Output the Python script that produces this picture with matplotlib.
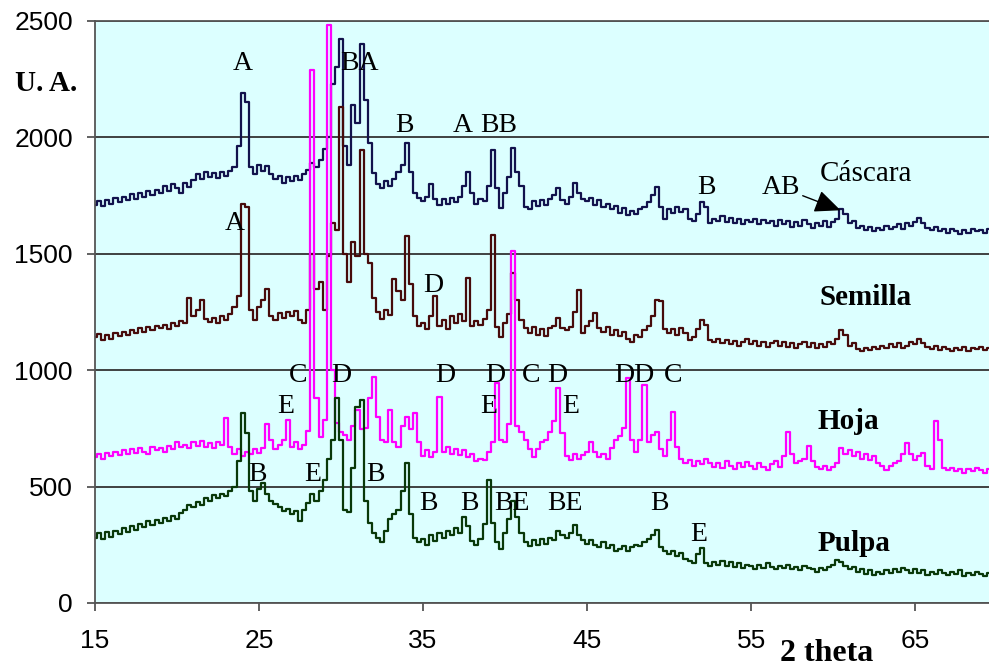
import numpy as np
import matplotlib
matplotlib.use("Agg")
import matplotlib.pyplot as plt

# 2 theta grid, 0.25 deg step from 15 to 69.5
two_theta = np.arange(15.0, 69.51, 0.25)

cascara = [
    1710, 1725, 1705, 1730, 1715, 1740, 1720, 1745,
    1730, 1755, 1735, 1760, 1745, 1770, 1750, 1775,
    1760, 1790, 1770, 1800, 1780, 1760, 1805, 1785,
    1815, 1840, 1820, 1850, 1830, 1845, 1825, 1850,
    1835, 1855, 1870, 1960, 2190, 2150, 1870, 1840,
    1880, 1855, 1875, 1840, 1820, 1835, 1805, 1830,
    1810, 1835, 1815, 1840, 1860, 1890, 1870, 1900,
    1950, 2000, 2230, 2300, 2420, 1960, 1880, 2140,
    2060, 2400, 2160, 1975, 1845, 1800, 1780, 1810,
    1790, 1820, 1850, 1880, 1975, 1850, 1760, 1740,
    1725, 1745, 1800, 1735, 1710, 1735, 1715, 1740,
    1720, 1745, 1790, 1850, 1760, 1715, 1735, 1725,
    1790, 1945, 1780, 1695, 1760, 1830, 1955, 1850,
    1790, 1700, 1690, 1725, 1705, 1730, 1710, 1735,
    1750, 1780, 1730, 1715, 1745, 1805, 1760, 1735,
    1725, 1740, 1710, 1730, 1700, 1715, 1690, 1705,
    1675, 1695, 1665, 1685, 1670, 1690, 1700, 1720,
    1750, 1785, 1700, 1650, 1690, 1675, 1700, 1680,
    1690, 1650, 1640, 1670, 1720, 1700, 1630, 1650,
    1640, 1660, 1635, 1655, 1630, 1650, 1625, 1645,
    1635, 1650, 1625, 1645, 1630, 1640, 1620, 1645,
    1625, 1640, 1615, 1635, 1620, 1645, 1625, 1610,
    1630, 1620, 1640, 1615, 1635, 1650, 1690, 1670,
    1630, 1640, 1610, 1620, 1600, 1615, 1595, 1610,
    1600, 1620, 1605, 1615, 1625, 1605, 1630, 1620,
    1635, 1655, 1630, 1610, 1600, 1615, 1595, 1605,
    1590, 1605, 1595, 1585, 1600, 1590, 1605, 1595,
    1600, 1590, 1605,
]

semilla = [
    1140, 1155, 1130, 1150, 1135, 1160, 1145, 1165,
    1150, 1170, 1160, 1180, 1165, 1185, 1170, 1190,
    1180, 1195, 1175, 1200, 1190, 1210, 1200, 1310,
    1230, 1260, 1300, 1220, 1205, 1225, 1200, 1230,
    1215, 1240, 1270, 1320, 1715, 1700, 1260, 1215,
    1270, 1300, 1350, 1230, 1215, 1245, 1225, 1250,
    1230, 1255, 1215, 1200, 1260, 1500, 1350, 1380,
    1260, 1490, 1630, 1600, 2130, 1500, 1380, 1550,
    1490, 1945, 1500, 1460, 1310, 1250, 1220, 1260,
    1235, 1390, 1340, 1300, 1575, 1370, 1230, 1190,
    1200, 1175, 1230, 1320, 1190, 1215, 1175, 1230,
    1200, 1240, 1210, 1395, 1190, 1210, 1195, 1220,
    1260, 1580, 1185, 1140, 1200, 1240, 1415, 1300,
    1215, 1180, 1160, 1185, 1150, 1175, 1145, 1180,
    1190, 1225, 1180, 1170, 1185, 1250, 1345, 1160,
    1190, 1210, 1245, 1180, 1165, 1185, 1150, 1170,
    1145, 1165, 1135, 1120, 1150, 1140, 1170, 1190,
    1230, 1300, 1295, 1175, 1160, 1175, 1150, 1180,
    1160, 1130, 1140, 1175, 1215, 1195, 1130, 1120,
    1135, 1115, 1130, 1110, 1125, 1105, 1120, 1135,
    1110, 1125, 1105, 1120, 1100, 1115, 1125, 1105,
    1120, 1100, 1115, 1095, 1110, 1120, 1100, 1115,
    1095, 1110, 1100, 1120, 1110, 1135, 1170, 1150,
    1105, 1115, 1090, 1080, 1095, 1085, 1100, 1090,
    1105, 1095, 1110, 1100, 1115, 1095, 1105, 1120,
    1110, 1135, 1115, 1100, 1090, 1105, 1085, 1100,
    1090, 1080, 1095, 1085, 1100, 1080, 1095, 1090,
    1100, 1085, 1095,
]

hoja = [
    625, 640, 620, 645, 630, 650, 635, 655,
    640, 660, 645, 665, 650, 640, 670, 655,
    665, 650, 675, 660, 690, 670, 680, 665,
    690, 675, 695, 670, 685, 665, 690, 680,
    795, 670, 640, 660, 630, 650, 640, 660,
    645, 665, 770, 700, 660, 680, 700, 785,
    670, 690, 660, 680, 740, 2290, 880, 712,
    785, 2480, 1000, 772, 735, 720, 700, 760,
    830, 745, 750, 880, 970, 800, 700, 690,
    830, 690, 670, 760, 800, 745, 815, 690,
    630, 655, 625, 650, 885, 650, 670, 640,
    660, 635, 655, 625, 640, 610, 620, 615,
    650, 690, 945, 700, 690, 770, 1510, 760,
    735, 700, 660, 625, 660, 690, 700, 735,
    780, 925, 730, 630, 615, 640, 620, 635,
    650, 690, 650, 625, 640, 620, 665, 700,
    715, 750, 965, 700, 650, 700, 935, 690,
    720, 735, 660, 630, 700, 820, 670, 620,
    600, 615, 590, 610, 595, 620, 600, 585,
    600, 580, 610, 590, 575, 600, 585, 605,
    590, 575, 600, 585, 570, 595, 610, 585,
    630, 735, 640, 600, 610, 620, 675, 610,
    585, 575, 590, 570, 585, 600, 665, 640,
    655, 630, 650, 620, 640, 615, 630, 600,
    590, 570, 590, 600, 610, 640, 685, 640,
    615, 630, 645, 590, 575, 780, 700, 580,
    570, 580, 565, 575, 560, 575, 565, 580,
    570, 560, 575,
]

pulpa = [
    280, 300, 275, 305, 285, 310, 295, 320,
    305, 330, 315, 340, 325, 350, 335, 355,
    345, 365, 350, 375, 360, 385, 400, 420,
    410, 435, 420, 450, 440, 465, 450, 470,
    460, 480, 500, 610, 815, 730, 480, 440,
    490, 515, 470, 440, 425, 410, 395, 405,
    380, 395, 350, 400, 430, 470, 440, 480,
    530, 620, 700, 880, 700, 400, 390, 580,
    840, 870, 440, 345, 300, 280, 260, 310,
    360, 380, 400, 480, 600, 380, 280, 260,
    275, 250, 290, 265, 300, 280, 310, 290,
    320, 300, 370, 330, 265, 250, 275, 340,
    530, 345, 260, 230, 300, 360, 440, 370,
    300, 260, 245, 270, 250, 275, 255, 280,
    270, 310, 290, 280, 300, 335, 290, 270,
    255, 270, 250, 240, 260, 235, 250, 225,
    230, 245, 225, 240, 250, 245, 260, 275,
    290, 315, 240, 225, 210, 225, 200, 215,
    190, 180, 170, 210, 235, 170, 160, 175,
    165, 180, 160, 175, 155, 170, 150, 165,
    160, 145, 165, 150, 170, 155, 145, 160,
    150, 165, 145, 155, 140, 160, 150, 145,
    135, 150, 140, 155, 165, 185, 175, 160,
    145, 155, 135, 145, 125, 140, 120, 135,
    125, 140, 130, 145, 135, 150, 140, 130,
    145, 130, 140, 120, 135, 125, 140, 130,
    120, 135, 125, 140, 115, 130, 120, 135,
    125, 115, 130,
]

# phase labels: (text, 2theta, counts)
peak_labels = [
    ("A", 24.0, 2317), ("BA", 31.15, 2317), ("B", 33.85, 2050),
    ("A", 37.4, 2050), ("BB", 39.6, 2050), ("B", 52.3, 1785),
    ("A", 23.5, 1630), ("D", 35.6, 1364),
    ("C", 27.4, 976), ("D", 30.0, 976), ("D", 36.35, 976), ("D", 39.4, 976),
    ("C", 41.6, 976), ("D", 43.2, 976), ("DD", 47.9, 976), ("C", 50.25, 976),
    ("E", 26.6, 845), ("E", 39.0, 845), ("E", 44.0, 845),
    ("B", 24.9, 553), ("E", 28.25, 553), ("B", 32.1, 553),
    ("B", 35.3, 425), ("B", 37.8, 425), ("BE", 40.4, 425), ("BE", 43.65, 425),
    ("B", 49.4, 425), ("E", 51.8, 296),
]
names = ["Cáscara", "Semilla", "Hoja", "Pulpa"]
name_pos = [(62.0, 1840), (62.0, 1313), (60.9, 781), (61.3, 257)]
colors = ["#12124c", "#470b0b", "#ff00ff", "#093809"]

serif = ["Liberation Serif", "DejaVu Serif"]

fig = plt.figure(figsize=(9.89, 6.72), dpi=100)
ax = fig.add_axes([0.0961, 0.1027, 0.9039, 0.8665])
ax.set_facecolor("#dcffff")

for series, c in zip([cascara, semilla, hoja, pulpa], colors):
    ax.plot(two_theta, series, color=c, lw=1.6, drawstyle="steps-mid")

ax.set_xlim(15, 69.5)
ax.set_ylim(0, 2500)
ax.set_xticks([15, 25, 35, 45, 55, 65])
ax.set_yticks([0, 500, 1000, 1500, 2000, 2500])
ax.yaxis.grid(True, color="#333333", lw=1.3)
ax.set_axisbelow(True)
for s in ["left", "bottom", "top"]:
    ax.spines[s].set_color("#555555")
    ax.spines[s].set_linewidth(1.3)
ax.spines["right"].set_visible(False)
ax.tick_params(axis="both", direction="out", length=6, width=1.3, color="#555555",
               labelsize=19, labelcolor="black")
ax.tick_params(axis="y", pad=10)
ax.tick_params(axis="x", pad=13)
for lab in ax.get_xticklabels() + ax.get_yticklabels():
    lab.set_family(["Liberation Sans", "DejaVu Sans"])

for txt, x, y in peak_labels:
    ax.text(x, y, txt, family=serif, fontsize=20, ha="center", va="center")

ax.annotate("AB", xy=(60.45, 1686), xytext=(56.8, 1785), family=serif, fontsize=20,
            ha="center", va="center",
            arrowprops=dict(arrowstyle="-|>,head_length=0.8,head_width=0.35",
                            color="black", lw=1.0, shrinkA=0, shrinkB=0))

for i, (nm, (x, y)) in enumerate(zip(names, name_pos)):
    ax.text(x, y, nm, family=serif, fontsize=21, ha="center", va="center",
            fontweight="normal" if i == 0 else "bold")

fig.text(0.0465, 0.876, "U. A.", family=serif, fontsize=21, fontweight="bold",
         ha="center", va="center")
fig.text(0.836, 0.006, "2 theta", family=serif, fontsize=23, fontweight="bold",
         ha="center", va="bottom")

fig.savefig("out.png", dpi=100)
